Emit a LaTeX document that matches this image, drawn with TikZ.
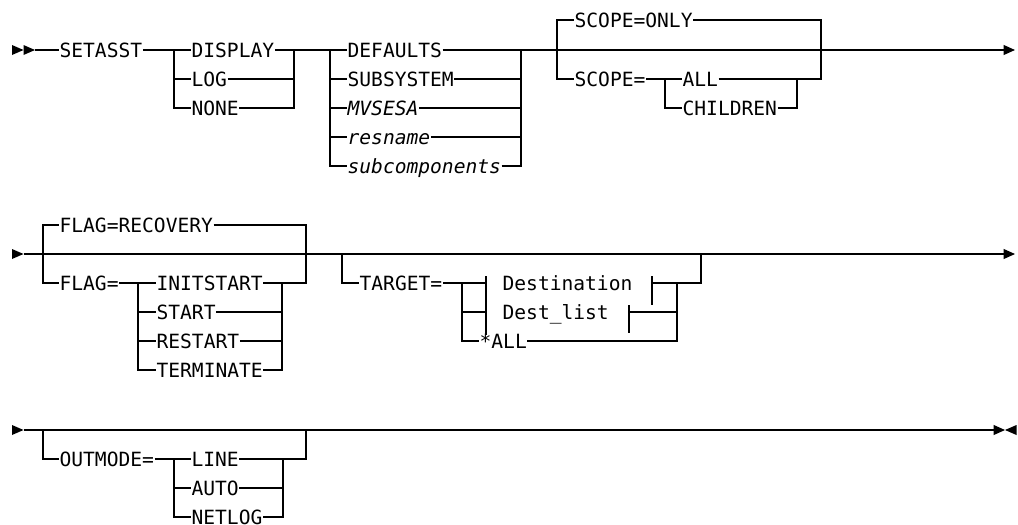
\documentclass[tikz,border=0pt]{standalone}
\usepackage{fontspec}
\setmonofont{DejaVu Sans Mono}
\usetikzlibrary{arrows.meta,positioning,calc}

\begin{document}
\begin{tikzpicture}[
  x=1pt,y=-1pt,
  line width=1.2pt,
  kw/.style={anchor=west,inner xsep=0pt,inner ysep=0pt,text height=14.3pt,
             text depth=0pt,font=\fontsize{19.6}{20}\selectfont\ttfamily},
  var/.style={kw,font=\fontsize{19.6}{20}\selectfont\ttfamily\itshape},
  endarr/.style={-{Triangle[length=11.5pt,width=10pt]}},
  head/.pic={\fill (0,-5) -- (11.5,0) -- (0,5) -- cycle;},
  tail/.pic={\fill (11.5,-5) -- (0,0) -- (11.5,5) -- cycle;},
]
\useasboundingbox (0,0) rectangle (1018,525);

%% ===== Row 1: SETASST ========================================================
\pic at (12,50) {head};
\pic at (23.5,50) {head};
\coordinate (r1in) at (35,50);
\node[kw] (setasst) at (59,50) {SETASST};
\draw (r1in) -- (setasst.west);

%% ----- DISPLAY / LOG / NONE
\coordinate (selL) at (174,50);
\coordinate (selR) at (294,50);
\node[kw] (display) at (191,50) {DISPLAY};
\node[kw] (log) at (191,79) {LOG};
\node[kw] (none) at (191,108) {NONE};
\draw (setasst.east) -- (display.west);
\draw (selL) |- (log.west);
\draw (selL) |- (none.west);
\draw (display.east) -- (selR);
\draw (log.east) -| (selR);
\draw (none.east) -| (selR);

%% ----- resource choice
\coordinate (resL) at (330,50);
\coordinate (resR) at (521,50);
\node[kw] (defaults) at (347,50) {DEFAULTS};
\node[kw] (subsystem) at (347,79) {SUBSYSTEM};
\node[var] (mvsesa) at (347,108) {MVSESA};
\node[var] (resname) at (347,137) {resname};
\node[var] (subcomp) at (347,166) {subcomponents};
\draw (selR) -- (defaults.west);
\draw (resL) |- (subsystem.west);
\draw (resL) |- (mvsesa.west);
\draw (resL) |- (resname.west);
\draw (resL) |- (subcomp.west);
\draw (defaults.east) -- (resR);
\draw (subsystem.east) -| (resR);
\draw (mvsesa.east) -| (resR);
\draw (resname.east) -| (resR);
\draw (subcomp.east) -| (resR);

%% ----- SCOPE
\coordinate (scpL) at (557,50);
\coordinate (scpR) at (821,50);
\node[kw] (sonly) at (574,20) {SCOPE=ONLY};
\node[kw] (scope) at (574,79) {SCOPE=};
\coordinate (kidL) at (665,79);
\coordinate (kidR) at (797,79);
\node[kw] (sall) at (682,79) {ALL};
\node[kw] (children) at (682,108) {CHILDREN};
\draw (resR) -- (scpR);
\draw (scpL) |- (sonly.west);
\draw (sonly.east) -| (scpR);
\draw (scpL) |- (scope.west);
\draw (scope.east) -- (sall.west);
\draw (sall.east) -| (scpR);
\draw (kidL) |- (children.west);
\draw (children.east) -| (kidR);
\coordinate (r1out) at (1015,50);
\draw[endarr] (scpR) -- (r1out);

%% ===== Row 2: FLAG, TARGET ===================================================
\pic at (12,254) {head};
\coordinate (r2in) at (23.5,254);
\coordinate (r2out) at (1015,254);
\draw[endarr] (r2in) -- (r2out);

%% ----- FLAG
\coordinate (flgL) at (43,254);
\coordinate (flgR) at (306,254);
\node[kw] (frec) at (59,225) {FLAG=RECOVERY};
\node[kw] (flag) at (59,283) {FLAG=};
\coordinate (stL) at (138,283);
\coordinate (stR) at (282,283);
\node[kw] (initstart) at (156,283) {INITSTART};
\node[kw] (fstart) at (156,312) {START};
\node[kw] (restart) at (156,341) {RESTART};
\node[kw] (terminate) at (156,370) {TERMINATE};
\draw (flgL) |- (frec.west);
\draw (frec.east) -| (flgR);
\draw (flgL) |- (flag.west);
\draw (flag.east) -- (initstart.west);
\draw (initstart.east) -| (flgR);
\draw (stL) |- (fstart.west);
\draw (stL) |- (restart.west);
\draw (stL) |- (terminate.west);
\draw (fstart.east) -| (stR);
\draw (restart.east) -| (stR);
\draw (terminate.east) -| (stR);

%% ----- TARGET
\coordinate (tgtL) at (342,254);
\coordinate (tgtR) at (701,254);
\node[kw] (target) at (359,283) {TARGET=};
\coordinate (dstL) at (462,283);
\coordinate (dstR) at (677,283);
\coordinate (destin) at (486,283);
\coordinate (destout) at (652,283);
\coordinate (listin) at (486,312);
\coordinate (listout) at (629,312);
\node[kw] (dest) at (502,283) {Destination};
\node[kw] (destlist) at (502,312) {Dest\_list};
\node[kw] (tall) at (479,341) {*ALL};
\draw (tgtL) |- (target.west);
\draw (target.east) -- (destin);
\draw (dstL) |- (listin);
\draw (dstL) |- (tall.west);
\draw ([yshift=7pt]destin) -- ([yshift=-22pt]destin);
\draw ([yshift=7pt]listin) -- ([yshift=-23pt]listin);
\draw ([yshift=7pt]destout) -- ([yshift=-22pt]destout);
\draw ([yshift=7pt]listout) -- ([yshift=-21pt]listout);
\draw (destout) -| (tgtR);
\draw (listout) -| (dstR);
\draw (tall.east) -| (dstR);

%% ===== Row 3: OUTMODE ========================================================
\pic at (12,430) {head};
\coordinate (r3in) at (23.5,430);
\coordinate (r3out) at (1005,430);
\draw[endarr] (r3in) -- (r3out);
\pic at (1005,430) {tail};
\coordinate (kinkA) at (312,429.3);
\coordinate (kinkB) at (333,429.3);
\draw[line width=1.4pt] (kinkA) -- (kinkB);

\coordinate (omL) at (43,430);
\coordinate (omR) at (306,430);
\node[kw] (outmode) at (59,459) {OUTMODE=};
\coordinate (modL) at (174,459);
\coordinate (modR) at (283,459);
\node[kw] (omline) at (191,459) {LINE};
\node[kw] (omauto) at (191,488) {AUTO};
\node[kw] (omnetlog) at (191,517) {NETLOG};
\draw (omL) |- (outmode.west);
\draw (outmode.east) -- (omline.west);
\draw (omline.east) -| (omR);
\draw (modL) |- (omauto.west);
\draw (modL) |- (omnetlog.west);
\draw (omauto.east) -| (modR);
\draw (omnetlog.east) -| (modR);

\end{tikzpicture}
\end{document}
